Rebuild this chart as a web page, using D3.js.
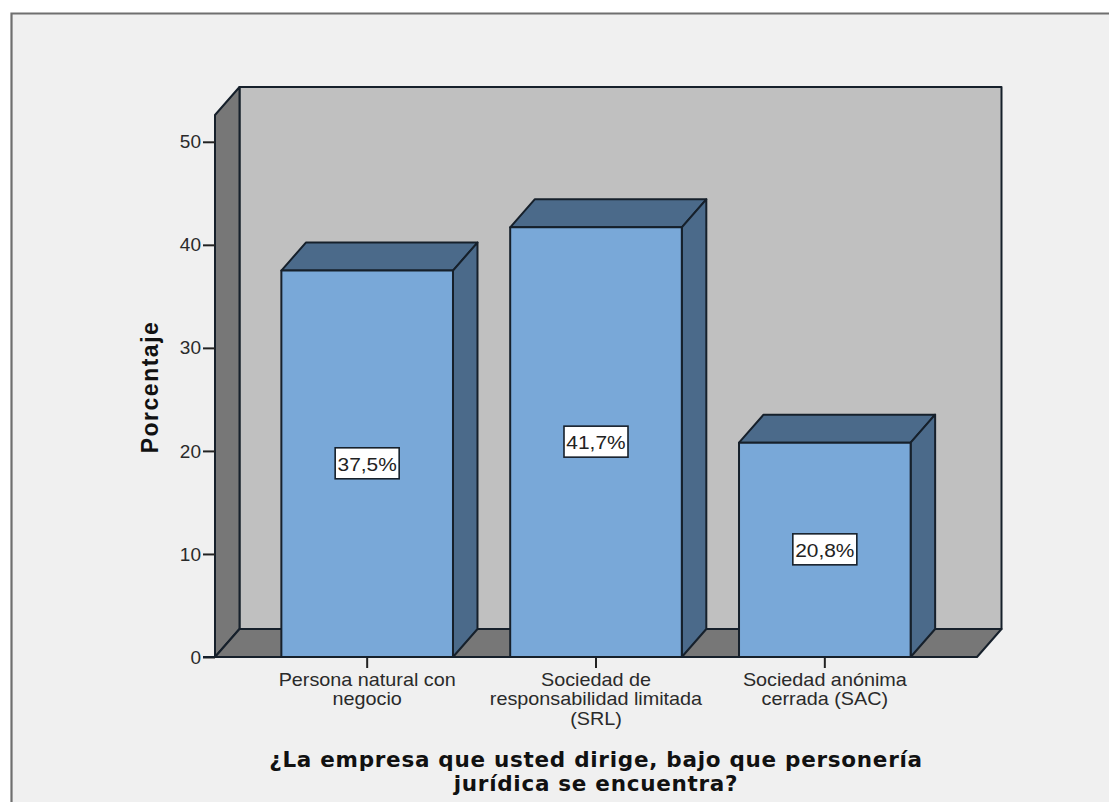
<!DOCTYPE html>
<html lang="es">
<head>
<meta charset="utf-8">
<script src="https://cdn.jsdelivr.net/npm/d3@7/dist/d3.min.js"></script>
<style>
html,body{margin:0;padding:0;background:#fff;overflow:hidden}
svg{display:block}
</style>
</head>
<body>
<svg id="chart" width="1109" height="802"></svg>
<script>
// Legal form of the companies surveyed, as a percentage of respondents
const categories = ["Persona natural con negocio", "Sociedad de responsabilidad limitada (SRL)", "Sociedad anónima cerrada (SAC)"];
const categoryLines = [["Persona natural con", "negocio"], ["Sociedad de", "responsabilidad limitada", "(SRL)"], ["Sociedad anónima", "cerrada (SAC)"]];
const values = [37.5, 41.7, 20.8];
const valueLabels = ["37,5%", "41,7%", "20,8%"];
const yTicks = [0, 10, 20, 30, 40, 50];
const yMax = 52.6;
const yTitle = "Porcentaje";
const xTitleLines = ["¿La empresa que usted dirige, bajo que personería", "jurídica se encuentra?"];

const W = 1109, H = 802;
const stroke = "#16202b";
const depthX = 24.5, depthY = 28;
const textWiden = 1.1; // horizontal stretch of the Arial-style labels

const svg = d3.select("#chart");

// Panel background with its frame on the top and left only
svg.append("rect").attr("x", 11).attr("y", 13).attr("width", W - 11).attr("height", H - 13).attr("fill", "#f0f0f0");
svg.append("path").attr("d", `M11.5,${H}V13.5H${W}`).attr("fill", "none").attr("stroke", "#6f6f6f").attr("stroke-width", 2.2);

const x = d3.scaleBand().domain(categories).range([215, 977]).paddingInner(0.25).paddingOuter(0.29);
const y = d3.scaleLinear().domain([0, yMax]).range([657, 115]);

const poly = pts => pts.map(p => p.join(",")).join(" ");
const x0 = x.range()[0], x1 = x.range()[1], yB = y(0), yT = y(yMax);

// Box: back wall, left wall, floor
const walls = svg.append("g").attr("stroke", stroke).attr("stroke-width", 2).attr("stroke-linejoin", "round");
walls.append("polygon").attr("fill", "#c0c0c0")
  .attr("points", poly([[x0 + depthX, yT - depthY], [x1 + depthX, yT - depthY], [x1 + depthX, yB - depthY], [x0 + depthX, yB - depthY]]));
walls.append("polygon").attr("fill", "#777777")
  .attr("points", poly([[x0, yB], [x0 + depthX, yB - depthY], [x0 + depthX, yT - depthY], [x0, yT]]));
walls.append("polygon").attr("fill", "#777777")
  .attr("points", poly([[x0, yB], [x1, yB], [x1 + depthX, yB - depthY], [x0 + depthX, yB - depthY]]));

// Extruded bars: top face, side face, front face
const bars = svg.append("g").selectAll("g").data(categories).join("g")
  .attr("stroke", stroke).attr("stroke-width", 2).attr("stroke-linejoin", "round");
bars.each(function (c, i) {
  const g = d3.select(this);
  const l = x(c), r = l + x.bandwidth(), t = y(values[i]);
  g.append("polygon").attr("fill", "#4b6a8a")
    .attr("points", poly([[l, t], [l + depthX, t - depthY], [r + depthX, t - depthY], [r, t]]));
  g.append("polygon").attr("fill", "#4b6a8a")
    .attr("points", poly([[r, t], [r + depthX, t - depthY], [r + depthX, yB - depthY], [r, yB]]));
  g.append("rect").attr("x", l).attr("y", t).attr("width", r - l).attr("height", yB - t).attr("fill", "#79a8d8");
});

// Value labels centred on the front face of each bar
const labels = svg.append("g").selectAll("g").data(categories).join("g")
  .attr("transform", (c, i) => `translate(${x(c) + x.bandwidth() / 2},${y(values[i] / 2)})`);
labels.append("rect").attr("x", -32).attr("y", -16).attr("width", 64).attr("height", 31)
  .attr("fill", "#fff").attr("stroke", stroke).attr("stroke-width", 1.6);
labels.append("text").attr("y", 7).attr("text-anchor", "middle")
  .attr("transform", `scale(${textWiden},1)`)
  .attr("font-family", "Liberation Sans").attr("font-size", 19).attr("fill", "#222")
  .text((c, i) => valueLabels[i]);

// Value axis, with ticks outside the left wall
const yAxis = svg.append("g").attr("transform", `translate(${x0},0)`)
  .call(d3.axisLeft(y).tickValues(yTicks).tickSize(12).tickPadding(2).tickFormat(d3.format("d")));
yAxis.select(".domain").remove();
yAxis.selectAll("line").attr("stroke", "#222").attr("stroke-width", 2);
yAxis.selectAll("text").attr("font-family", "Liberation Sans").attr("font-size", 19).attr("fill", "#2a2a2a");

// Category axis
const xAxis = svg.append("g").attr("transform", `translate(0,${yB})`)
  .call(d3.axisBottom(x).tickSize(11).tickFormat(""));
xAxis.select(".domain").remove();
xAxis.selectAll("line").attr("stroke", "#222").attr("stroke-width", 2);
svg.append("line").attr("x1", x0 - 12).attr("x2", x1).attr("y1", yB).attr("y2", yB).attr("stroke", stroke).attr("stroke-width", 2);

const catText = svg.append("g").selectAll("text").data(categories).join("text")
  .attr("text-anchor", "middle").attr("font-family", "Liberation Sans").attr("font-size", 18).attr("fill", "#2a2a2a")
  .attr("transform", c => `translate(${x(c) + x.bandwidth() / 2},${yB + 29}) scale(${textWiden},1)`);
catText.selectAll("tspan").data((c, i) => categoryLines[i]).join("tspan")
  .attr("x", 0).attr("dy", (d, i) => i ? 19.5 : 0).text(d => d);

// Axis titles
svg.append("text").attr("transform", "translate(158,387) rotate(-90)").attr("text-anchor", "middle")
  .attr("font-family", "Liberation Sans").attr("font-weight", "bold").attr("font-size", 23)
  .attr("letter-spacing", 1.5).attr("fill", "#111").text(yTitle);
svg.append("g").selectAll("text").data(xTitleLines).join("text")
  .attr("x", 596).attr("y", (d, i) => 767 + i * 24).attr("text-anchor", "middle")
  .attr("font-family", "DejaVu Sans").attr("font-weight", "bold").attr("font-size", 21.5)
  .attr("letter-spacing", 0.72).attr("fill", "#111").text(d => d);
</script>
</body>
</html>
